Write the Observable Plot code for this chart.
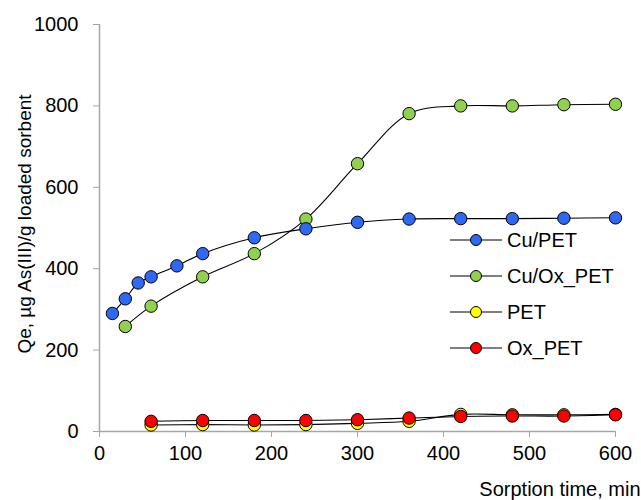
<!DOCTYPE html>
<html>
<head>
<meta charset="utf-8">
<script src="https://cdn.jsdelivr.net/npm/d3@7"></script>
<script src="https://cdn.jsdelivr.net/npm/@observablehq/plot@0.6"></script>
<style>
  html, body { margin: 0; padding: 0; background: #fff; }
  #wrap { position: relative; width: 641px; height: 500px; }
  #legend { position: absolute; left: 0; top: 0; }
</style>
</head>
<body>
<div id="wrap"></div>
<script>
// ---- data ----
const seriesNames = ["Cu/PET", "Cu/Ox_PET", "PET", "Ox_PET"];
const seriesColors = ["#2f68f2", "#92d050", "#ffff00", "#ff0000"];

const timesCuPET = [15, 30, 45, 60, 90, 120, 180, 240, 300, 360, 420, 480, 540, 600];
const cuPET      = [290, 326, 365, 380, 407, 437, 476, 498, 514, 522, 523, 523, 524, 525];

const timesCuOxPET = [30, 60, 120, 180, 240, 300, 360, 420, 480, 540, 600];
const cuOxPET      = [258, 308, 380, 437, 522, 658, 781, 800, 800, 803, 804];

const timesPET = [60, 120, 180, 240, 300, 360, 420, 480, 540, 600];
const pet      = [16, 17, 16, 17, 20, 25, 42, 41, 41, 42];
const oxPET    = [25, 27, 27, 27, 29, 33, 37, 38, 38, 41];

const xTicks = [0, 100, 200, 300, 400, 500, 600];
const yTicks = [0, 200, 400, 600, 800, 1000];

const xLabel = "Sorption time, min";
const yLabel = "Qe, µg As(III)/g loaded sorbent";

// ---- build table ----
function mk(name, xs, ys) { return xs.map((t, i) => ({series: name, t, q: ys[i]})); }
const drawOrder = [
  mk("Cu/Ox_PET", timesCuOxPET, cuOxPET),
  mk("Cu/PET", timesCuPET, cuPET),
  mk("PET", timesPET, pet),
  mk("Ox_PET", timesPET, oxPET)
];
const colorOf = Object.fromEntries(seriesNames.map((n, i) => [n, seriesColors[i]]));

const font = "'Liberation Sans', Arial, sans-serif";
const axisGray = "#a6a6a6";

const marks = [
  Plot.ruleY([0], {x1: 0, x2: 600, stroke: axisGray, strokeWidth: 1.5}),
  Plot.ruleX([0], {y1: 0, y2: 1000, stroke: axisGray, strokeWidth: 1.5}),
  Plot.axisX({ticks: xTicks, tickSize: 6, tickPadding: 8, stroke: axisGray, fill: "#000", label: null, tickFormat: d => String(d)}),
  Plot.axisY({ticks: yTicks, tickSize: 6, tickPadding: 15, stroke: axisGray, fill: "#000", label: null, tickFormat: d => String(d)}),
];
for (const s of drawOrder) {
  marks.push(Plot.line(s, {x: "t", y: "q", stroke: "#000", strokeWidth: 1.1, curve: "catmull-rom"}));
  marks.push(Plot.dot(s, {x: "t", y: "q", r: 6.2, fill: colorOf[s[0].series], stroke: "#000", strokeWidth: 1}));
}
marks.push(Plot.text([xLabel], {text: d => d, frameAnchor: "bottom-right", textAnchor: "end", lineAnchor: "bottom", dx: 25, dy: 64, fontSize: 20, fill: "#000"}));
marks.push(Plot.text([yLabel], {text: d => d, frameAnchor: "left", rotate: -90, textAnchor: "middle", dx: -75, dy: -4, fontSize: 19, fill: "#000"}));

const chart = Plot.plot({
  width: 641,
  height: 500,
  marginLeft: 99,
  marginRight: 26,
  marginTop: 24,
  marginBottom: 69,
  x: {domain: [0, 600]},
  y: {domain: [0, 1000]},
  style: {fontFamily: font, fontSize: "20px", background: "#fff", color: "#000"},
  marks
});
const wrap = document.getElementById("wrap");
wrap.appendChild(chart);

// ---- legend (overlay svg) ----
const leg = d3.select(wrap).append("svg")
  .attr("id", "legend").attr("width", 641).attr("height", 500)
  .style("font-family", font).style("font-size", "20px");
seriesNames.forEach((n, i) => {
  const y = 240 + i * 36;
  const g = leg.append("g").attr("transform", `translate(0,${y})`);
  g.append("line").attr("x1", 450).attr("x2", 502).attr("y1", 0).attr("y2", 0).attr("stroke", "#000").attr("stroke-width", 1.1);
  g.append("circle").attr("cx", 476).attr("cy", 0).attr("r", 5.5).attr("fill", seriesColors[i]).attr("stroke", "#000");
  g.append("text").attr("x", 507).attr("y", 0).attr("dy", "0.36em").attr("fill", "#000").text(n);
});
</script>
</body>
</html>
